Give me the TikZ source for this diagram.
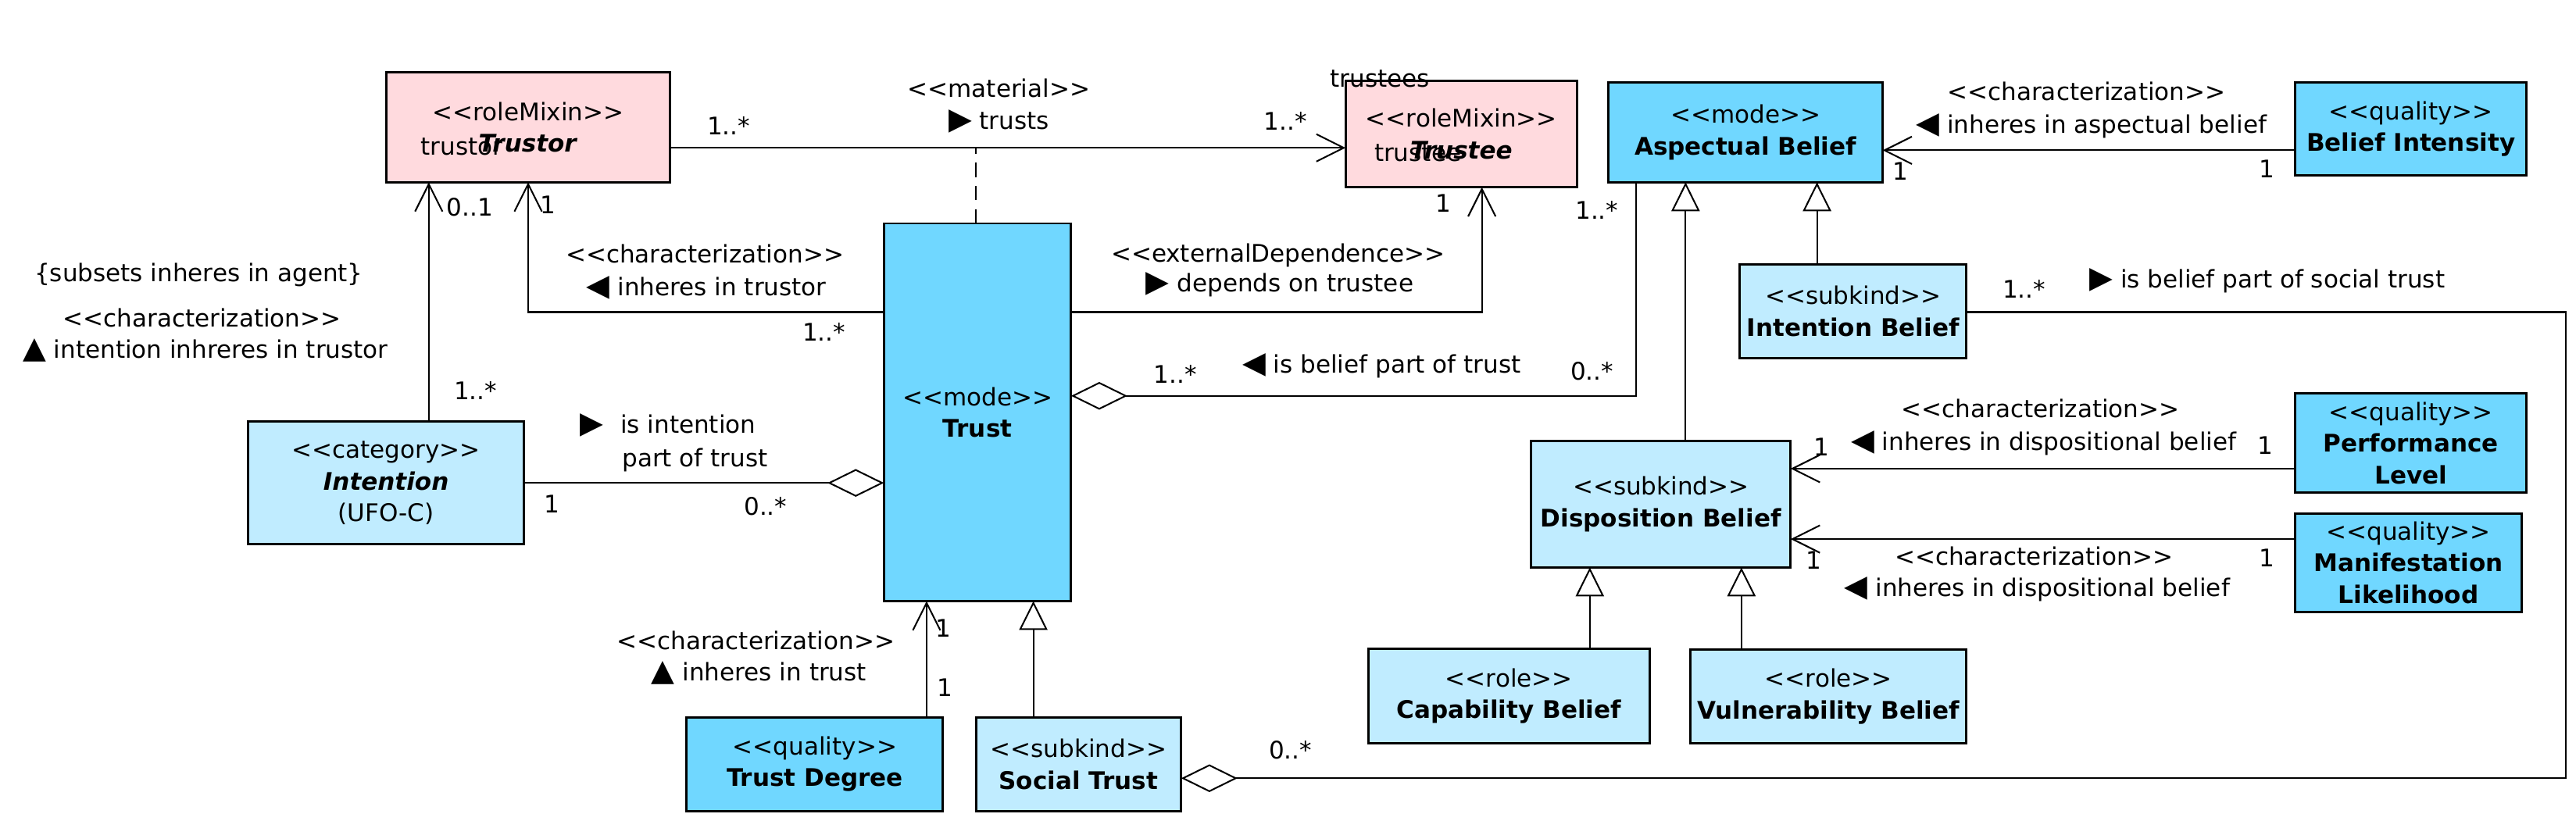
\documentclass[tikz,border=0pt]{standalone}
\usepackage{fontspec}
\setmainfont{DejaVu Sans}
\usetikzlibrary{arrows.meta}
\definecolor{pinkf}{RGB}{255,218,222}
\definecolor{cyanf}{RGB}{112,215,255}
\definecolor{lcyanf}{RGB}{192,236,255}
\newcommand\fs{\fontsize{8.4}{11}\selectfont}
\newcommand\st[1]{<\kern0pt<#1>\kern0pt>}
\newcommand\tri[1]{{\fontsize{10.5}{10.5}\selectfont #1}}
\begin{document}
\begin{tikzpicture}[x=0.02cm,y=-0.02cm,
  cls/.style={draw=black,line width=0.8pt,inner sep=0pt,outer sep=0pt,align=center,font=\fs},
  pinkbox/.style={cls,fill=pinkf},
  cyanbox/.style={cls,fill=cyanf},
  lcbox/.style={cls,fill=lcyanf},
  lbl/.style={inner sep=0pt,font=\fs,text height=6.6pt,text depth=1.8pt},
  conn/.style={line width=0.55pt,draw=black},
  assoc/.style={conn,-{Straight Barb[length=9.5pt,width=9.5pt]}},
  gen/.style={conn,-{Triangle[length=10pt,width=9.8pt,fill=white]}},
  aggr/.style={conn,{Diamond[length=19.5pt,width=9.6pt,fill=white]}-},
  ]
\useasboundingbox (0,0) rectangle (1568,499.4);
% classes
\node[pinkbox,minimum width=3.46cm,minimum height=1.34cm] (trustor) at (321.5,77.5) {\st{roleMixin}\\\textbf{\textit{Trustor}}};
\node[pinkbox,minimum width=2.82cm,minimum height=1.30cm] (trustee) at (889.5,81.5) {\st{roleMixin}\\\textbf{\textit{Trustee}}};
\node[cyanbox,minimum width=3.34cm,minimum height=1.22cm] (ab) at (1062.5,80.5) {\st{mode}\\\textbf{Aspectual Belief}};
\node[cyanbox,minimum width=2.82cm,minimum height=1.14cm] (bi) at (1467.5,78.5) {\st{quality}\\\textbf{Belief Intensity}};
\node[lcbox,minimum width=2.76cm,minimum height=1.14cm] (ib) at (1128,189.5) {\st{subkind}\\\textbf{Intention Belief}};
\node[cyanbox,minimum width=2.28cm,minimum height=4.60cm] (trust) at (595,251) {\st{mode}\\\textbf{Trust}};
\node[lcbox,minimum width=3.36cm,minimum height=1.49cm] (intention) at (235,294) {\st{category}\\\textbf{\textit{Intention}}\\(UFO-C)};
\node[cyanbox,minimum width=3.12cm,minimum height=1.144cm] (td) at (496,465.2) {\st{quality}\\\textbf{Trust Degree}};
\node[lcbox,minimum width=2.50cm,minimum height=1.144cm] (st) at (656.5,465.2) {\st{subkind}\\\textbf{Social Trust}};
\node[lcbox,minimum width=3.16cm,minimum height=1.54cm] (db) at (1011,307) {\st{subkind}\\\textbf{Disposition Belief}};
\node[lcbox,minimum width=3.42cm,minimum height=1.15cm] (cap) at (918.5,423.8) {\st{role}\\\textbf{Capability Belief}};
\node[lcbox,minimum width=3.36cm,minimum height=1.14cm] (vul) at (1113,424) {\st{role}\\\textbf{Vulnerability Belief}};
\node[cyanbox,minimum width=2.82cm,minimum height=1.21cm] (pl) at (1467.5,269.8) {\st{quality}\\\textbf{Performance}\\\textbf{Level}};
\node[cyanbox,minimum width=2.76cm,minimum height=1.20cm] (ml) at (1466,342.5) {\st{quality}\\\textbf{Manifestation}\\\textbf{Likelihood}};
% connectors
\coordinate (matmid) at (594,90);
\coordinate (rc1) at (1562,473.8);
\coordinate (rc2) at (1562,190);
\draw[assoc] (trustor.east |- 0,90) -- (trustee.west |- 0,90);
\draw[conn,dash pattern=on 5pt off 3pt] (trust.north -| matmid) -- (matmid);
\draw[assoc] (trust.west |- 0,190) -| (trustor.south);
\draw[assoc] (intention.north -| 261,0) -- (trustor.south -| 261,0);
\draw[assoc] (trust.east |- 0,190) -| (trustee.south -| 902,0);
\draw[aggr] (trust.east |- 0,241) -| (ab.south -| 996,0);
\draw[aggr] (trust.west |- 0,294) -- (intention.east |- 0,294);
\draw[assoc] (td.north -| 564,0) -- (trust.south -| 564,0);
\draw[gen] (st.north -| 629,0) -- (trust.south -| 629,0);
\draw[gen] (ib.north -| 1106,0) -- (ab.south -| 1106,0);
\draw[gen] (db.north -| 1026,0) -- (ab.south -| 1026,0);
\draw[gen] (cap.north -| 967.7,0) -- (db.south -| 967.7,0);
\draw[gen] (vul.north -| 1060,0) -- (db.south -| 1060,0);
\draw[assoc] (bi.west |- 0,91.5) -- (ab.east |- 0,91.5);
\draw[assoc] (pl.west |- 0,285.3) -- (db.east |- 0,285.3);
\draw[assoc] (ml.west |- 0,328.2) -- (db.east |- 0,328.2);
\draw[aggr] (st.east |- 0,473.8) -- (rc1) -- (rc2) -- (ib.east |- 0,190);
% labels
\node[lbl] (l1) at (608,55) {\st{material}};
\node[lbl] (l2) at (608,74.6) {\tri{▶} trusts};
\node[lbl] (l3) at (443.5,78) {1..*};
\node[lbl] (l4) at (782.5,75) {1..*};
\node[lbl] (l5) at (281,90) {trustor};
\node[lbl] (l6) at (863,94) {trustee};
\node[lbl] (l7) at (840,49) {trustees};
\node[lbl] (l8) at (429,156) {\st{characterization}};
\node[lbl] (l9) at (430,176) {\tri{◀} inheres in trustor};
\node[lbl] (l10) at (501.5,203.5) {1..*};
\node[lbl] (l11) at (333.5,126) {1};
\node[lbl] (l12) at (286,127.5) {0..1};
\node[lbl] (l13) at (289.5,239) {1..*};
\node[lbl] (l14) at (121,167) {\{subsets inheres in agent\}};
\node[lbl] (l15) at (123,195) {\st{characterization}};
\node[lbl] (l16) at (125,214) {\tri{▲} intention inhreres in trustor};
\node[lbl] (l17) at (778,155.5) {\st{externalDependence}};
\node[lbl] (l18) at (779,173.6) {\tri{▶} depends on trustee};
\node[lbl] (l19) at (878.5,125) {1};
\node[lbl] (l20) at (715.5,229) {1..*};
\node[lbl] (l21) at (841,223) {\tri{◀} is belief part of trust};
\node[lbl] (l22) at (969,227) {0..*};
\node[lbl] (l23) at (972,129) {1..*};
\node[lbl] (l24) at (406.5,259.5) {\tri{▶}\hspace{6pt}is intention};
\node[lbl] (l25) at (423,280) {part of trust};
\node[lbl] (l26) at (336,307.8) {1};
\node[lbl] (l27) at (466,309.5) {0..*};
\node[lbl] (l28) at (460,391.3) {\st{characterization}};
\node[lbl] (l29) at (462,410.4) {\tri{▲} inheres in trust};
\node[lbl] (l30) at (574,383.8) {1};
\node[lbl] (l31) at (575,419.6) {1};
\node[lbl] (l32) at (1270,57) {\st{characterization}};
\node[lbl] (l33) at (1273,77) {\tri{◀} inheres in aspectual belief};
\node[lbl] (l34) at (1157,105.6) {1};
\node[lbl] (l35) at (1380,104) {1};
\node[lbl] (l36) at (1232,177) {1..*};
\node[lbl] (l37) at (1380,171) {\tri{▶} is belief part of social trust};
\node[lbl] (l38) at (785.5,458) {0..*};
\node[lbl] (l39) at (1242,250) {\st{characterization}};
\node[lbl] (l40) at (1244,270) {\tri{◀} inheres in dispositional belief};
\node[lbl] (l41) at (1108.6,273.2) {1};
\node[lbl] (l42) at (1379,272.4) {1};
\node[lbl] (l43) at (1238,340) {\st{characterization}};
\node[lbl] (l44) at (1240,359) {\tri{◀} inheres in dispositional belief};
\node[lbl] (l45) at (1104,342.4) {1};
\node[lbl] (l46) at (1380,340.7) {1};
\end{tikzpicture}
\end{document}
